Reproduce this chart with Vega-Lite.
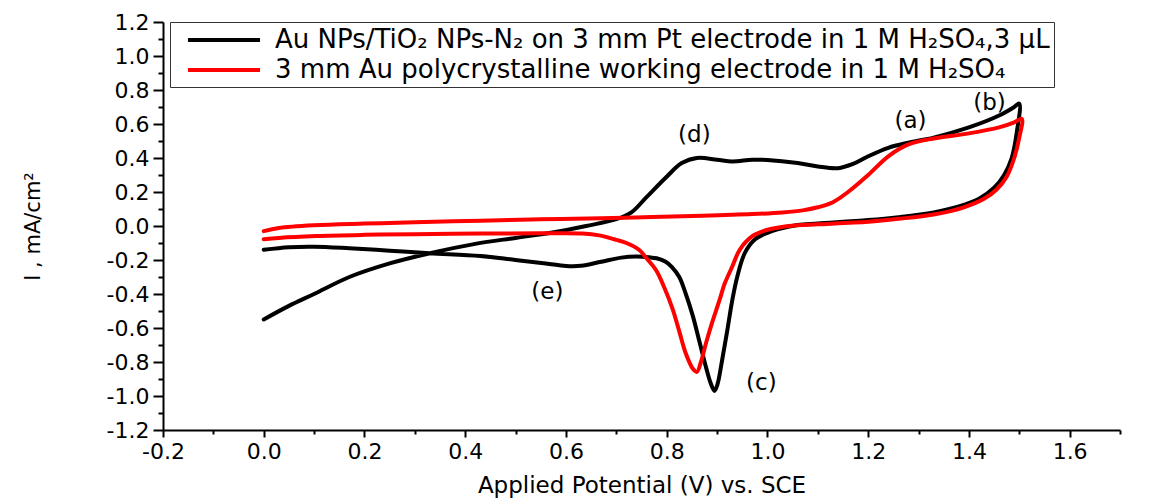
{
  "$schema": "https://vega.github.io/schema/vega-lite/v6.json",
  "width": 957,
  "height": 408,
  "autosize": {"type": "none"},
  "padding": {"left": 163, "top": 22, "right": 29, "bottom": 70},
  "background": "white",
  "config": {"view": {"stroke": null}, "font": "DejaVu Sans", "axis": {"labelOverlap": false}},
  "datasets": {
    "cv": [
      {"s": "Au NPs/TiO₂ NPs-N₂ on 3 mm Pt electrode in 1 M H₂SO₄,3 μL", "i": 1, "x": 0.0, "y": -0.55},
      {"s": "Au NPs/TiO₂ NPs-N₂ on 3 mm Pt electrode in 1 M H₂SO₄,3 μL", "i": 2, "x": 0.05, "y": -0.47},
      {"s": "Au NPs/TiO₂ NPs-N₂ on 3 mm Pt electrode in 1 M H₂SO₄,3 μL", "i": 3, "x": 0.1, "y": -0.4},
      {"s": "Au NPs/TiO₂ NPs-N₂ on 3 mm Pt electrode in 1 M H₂SO₄,3 μL", "i": 4, "x": 0.17, "y": -0.3},
      {"s": "Au NPs/TiO₂ NPs-N₂ on 3 mm Pt electrode in 1 M H₂SO₄,3 μL", "i": 5, "x": 0.25, "y": -0.22},
      {"s": "Au NPs/TiO₂ NPs-N₂ on 3 mm Pt electrode in 1 M H₂SO₄,3 μL", "i": 6, "x": 0.33, "y": -0.16},
      {"s": "Au NPs/TiO₂ NPs-N₂ on 3 mm Pt electrode in 1 M H₂SO₄,3 μL", "i": 7, "x": 0.42, "y": -0.105},
      {"s": "Au NPs/TiO₂ NPs-N₂ on 3 mm Pt electrode in 1 M H₂SO₄,3 μL", "i": 8, "x": 0.5, "y": -0.07},
      {"s": "Au NPs/TiO₂ NPs-N₂ on 3 mm Pt electrode in 1 M H₂SO₄,3 μL", "i": 9, "x": 0.57, "y": -0.04},
      {"s": "Au NPs/TiO₂ NPs-N₂ on 3 mm Pt electrode in 1 M H₂SO₄,3 μL", "i": 10, "x": 0.64, "y": 0.0},
      {"s": "Au NPs/TiO₂ NPs-N₂ on 3 mm Pt electrode in 1 M H₂SO₄,3 μL", "i": 11, "x": 0.7, "y": 0.04},
      {"s": "Au NPs/TiO₂ NPs-N₂ on 3 mm Pt electrode in 1 M H₂SO₄,3 μL", "i": 12, "x": 0.73, "y": 0.08},
      {"s": "Au NPs/TiO₂ NPs-N₂ on 3 mm Pt electrode in 1 M H₂SO₄,3 μL", "i": 13, "x": 0.76, "y": 0.17},
      {"s": "Au NPs/TiO₂ NPs-N₂ on 3 mm Pt electrode in 1 M H₂SO₄,3 μL", "i": 14, "x": 0.8, "y": 0.29},
      {"s": "Au NPs/TiO₂ NPs-N₂ on 3 mm Pt electrode in 1 M H₂SO₄,3 μL", "i": 15, "x": 0.83, "y": 0.37},
      {"s": "Au NPs/TiO₂ NPs-N₂ on 3 mm Pt electrode in 1 M H₂SO₄,3 μL", "i": 16, "x": 0.86, "y": 0.4},
      {"s": "Au NPs/TiO₂ NPs-N₂ on 3 mm Pt electrode in 1 M H₂SO₄,3 μL", "i": 17, "x": 0.9, "y": 0.39},
      {"s": "Au NPs/TiO₂ NPs-N₂ on 3 mm Pt electrode in 1 M H₂SO₄,3 μL", "i": 18, "x": 0.93, "y": 0.38},
      {"s": "Au NPs/TiO₂ NPs-N₂ on 3 mm Pt electrode in 1 M H₂SO₄,3 μL", "i": 19, "x": 0.97, "y": 0.39},
      {"s": "Au NPs/TiO₂ NPs-N₂ on 3 mm Pt electrode in 1 M H₂SO₄,3 μL", "i": 20, "x": 1.0, "y": 0.388},
      {"s": "Au NPs/TiO₂ NPs-N₂ on 3 mm Pt electrode in 1 M H₂SO₄,3 μL", "i": 21, "x": 1.06, "y": 0.37},
      {"s": "Au NPs/TiO₂ NPs-N₂ on 3 mm Pt electrode in 1 M H₂SO₄,3 μL", "i": 22, "x": 1.1, "y": 0.35},
      {"s": "Au NPs/TiO₂ NPs-N₂ on 3 mm Pt electrode in 1 M H₂SO₄,3 μL", "i": 23, "x": 1.14, "y": 0.34},
      {"s": "Au NPs/TiO₂ NPs-N₂ on 3 mm Pt electrode in 1 M H₂SO₄,3 μL", "i": 24, "x": 1.17, "y": 0.365},
      {"s": "Au NPs/TiO₂ NPs-N₂ on 3 mm Pt electrode in 1 M H₂SO₄,3 μL", "i": 25, "x": 1.2, "y": 0.41},
      {"s": "Au NPs/TiO₂ NPs-N₂ on 3 mm Pt electrode in 1 M H₂SO₄,3 μL", "i": 26, "x": 1.24, "y": 0.46},
      {"s": "Au NPs/TiO₂ NPs-N₂ on 3 mm Pt electrode in 1 M H₂SO₄,3 μL", "i": 27, "x": 1.28, "y": 0.49},
      {"s": "Au NPs/TiO₂ NPs-N₂ on 3 mm Pt electrode in 1 M H₂SO₄,3 μL", "i": 28, "x": 1.33, "y": 0.52},
      {"s": "Au NPs/TiO₂ NPs-N₂ on 3 mm Pt electrode in 1 M H₂SO₄,3 μL", "i": 29, "x": 1.4, "y": 0.58},
      {"s": "Au NPs/TiO₂ NPs-N₂ on 3 mm Pt electrode in 1 M H₂SO₄,3 μL", "i": 30, "x": 1.46, "y": 0.65},
      {"s": "Au NPs/TiO₂ NPs-N₂ on 3 mm Pt electrode in 1 M H₂SO₄,3 μL", "i": 31, "x": 1.49, "y": 0.7},
      {"s": "Au NPs/TiO₂ NPs-N₂ on 3 mm Pt electrode in 1 M H₂SO₄,3 μL", "i": 32, "x": 1.5, "y": 0.72},
      {"s": "Au NPs/TiO₂ NPs-N₂ on 3 mm Pt electrode in 1 M H₂SO₄,3 μL", "i": 33, "x": 1.495, "y": 0.55},
      {"s": "Au NPs/TiO₂ NPs-N₂ on 3 mm Pt electrode in 1 M H₂SO₄,3 μL", "i": 34, "x": 1.485, "y": 0.4},
      {"s": "Au NPs/TiO₂ NPs-N₂ on 3 mm Pt electrode in 1 M H₂SO₄,3 μL", "i": 35, "x": 1.47, "y": 0.3},
      {"s": "Au NPs/TiO₂ NPs-N₂ on 3 mm Pt electrode in 1 M H₂SO₄,3 μL", "i": 36, "x": 1.45, "y": 0.225},
      {"s": "Au NPs/TiO₂ NPs-N₂ on 3 mm Pt electrode in 1 M H₂SO₄,3 μL", "i": 37, "x": 1.42, "y": 0.16},
      {"s": "Au NPs/TiO₂ NPs-N₂ on 3 mm Pt electrode in 1 M H₂SO₄,3 μL", "i": 38, "x": 1.38, "y": 0.115},
      {"s": "Au NPs/TiO₂ NPs-N₂ on 3 mm Pt electrode in 1 M H₂SO₄,3 μL", "i": 39, "x": 1.33, "y": 0.08},
      {"s": "Au NPs/TiO₂ NPs-N₂ on 3 mm Pt electrode in 1 M H₂SO₄,3 μL", "i": 40, "x": 1.26, "y": 0.052},
      {"s": "Au NPs/TiO₂ NPs-N₂ on 3 mm Pt electrode in 1 M H₂SO₄,3 μL", "i": 41, "x": 1.2, "y": 0.035},
      {"s": "Au NPs/TiO₂ NPs-N₂ on 3 mm Pt electrode in 1 M H₂SO₄,3 μL", "i": 42, "x": 1.1, "y": 0.015},
      {"s": "Au NPs/TiO₂ NPs-N₂ on 3 mm Pt electrode in 1 M H₂SO₄,3 μL", "i": 43, "x": 1.06, "y": 0.006},
      {"s": "Au NPs/TiO₂ NPs-N₂ on 3 mm Pt electrode in 1 M H₂SO₄,3 μL", "i": 44, "x": 1.02, "y": -0.02},
      {"s": "Au NPs/TiO₂ NPs-N₂ on 3 mm Pt electrode in 1 M H₂SO₄,3 μL", "i": 45, "x": 1.0, "y": -0.04},
      {"s": "Au NPs/TiO₂ NPs-N₂ on 3 mm Pt electrode in 1 M H₂SO₄,3 μL", "i": 46, "x": 0.975, "y": -0.08},
      {"s": "Au NPs/TiO₂ NPs-N₂ on 3 mm Pt electrode in 1 M H₂SO₄,3 μL", "i": 47, "x": 0.955, "y": -0.16},
      {"s": "Au NPs/TiO₂ NPs-N₂ on 3 mm Pt electrode in 1 M H₂SO₄,3 μL", "i": 48, "x": 0.94, "y": -0.3},
      {"s": "Au NPs/TiO₂ NPs-N₂ on 3 mm Pt electrode in 1 M H₂SO₄,3 μL", "i": 49, "x": 0.93, "y": -0.44},
      {"s": "Au NPs/TiO₂ NPs-N₂ on 3 mm Pt electrode in 1 M H₂SO₄,3 μL", "i": 50, "x": 0.92, "y": -0.62},
      {"s": "Au NPs/TiO₂ NPs-N₂ on 3 mm Pt electrode in 1 M H₂SO₄,3 μL", "i": 51, "x": 0.91, "y": -0.79},
      {"s": "Au NPs/TiO₂ NPs-N₂ on 3 mm Pt electrode in 1 M H₂SO₄,3 μL", "i": 52, "x": 0.901, "y": -0.93},
      {"s": "Au NPs/TiO₂ NPs-N₂ on 3 mm Pt electrode in 1 M H₂SO₄,3 μL", "i": 53, "x": 0.895, "y": -0.97},
      {"s": "Au NPs/TiO₂ NPs-N₂ on 3 mm Pt electrode in 1 M H₂SO₄,3 μL", "i": 54, "x": 0.888, "y": -0.93},
      {"s": "Au NPs/TiO₂ NPs-N₂ on 3 mm Pt electrode in 1 M H₂SO₄,3 μL", "i": 55, "x": 0.878, "y": -0.83},
      {"s": "Au NPs/TiO₂ NPs-N₂ on 3 mm Pt electrode in 1 M H₂SO₄,3 μL", "i": 56, "x": 0.865, "y": -0.68},
      {"s": "Au NPs/TiO₂ NPs-N₂ on 3 mm Pt electrode in 1 M H₂SO₄,3 μL", "i": 57, "x": 0.852, "y": -0.53},
      {"s": "Au NPs/TiO₂ NPs-N₂ on 3 mm Pt electrode in 1 M H₂SO₄,3 μL", "i": 58, "x": 0.838, "y": -0.4},
      {"s": "Au NPs/TiO₂ NPs-N₂ on 3 mm Pt electrode in 1 M H₂SO₄,3 μL", "i": 59, "x": 0.825, "y": -0.3},
      {"s": "Au NPs/TiO₂ NPs-N₂ on 3 mm Pt electrode in 1 M H₂SO₄,3 μL", "i": 60, "x": 0.81, "y": -0.24},
      {"s": "Au NPs/TiO₂ NPs-N₂ on 3 mm Pt electrode in 1 M H₂SO₄,3 μL", "i": 61, "x": 0.798, "y": -0.21},
      {"s": "Au NPs/TiO₂ NPs-N₂ on 3 mm Pt electrode in 1 M H₂SO₄,3 μL", "i": 62, "x": 0.78, "y": -0.19},
      {"s": "Au NPs/TiO₂ NPs-N₂ on 3 mm Pt electrode in 1 M H₂SO₄,3 μL", "i": 63, "x": 0.765, "y": -0.184},
      {"s": "Au NPs/TiO₂ NPs-N₂ on 3 mm Pt electrode in 1 M H₂SO₄,3 μL", "i": 64, "x": 0.74, "y": -0.18},
      {"s": "Au NPs/TiO₂ NPs-N₂ on 3 mm Pt electrode in 1 M H₂SO₄,3 μL", "i": 65, "x": 0.71, "y": -0.186},
      {"s": "Au NPs/TiO₂ NPs-N₂ on 3 mm Pt electrode in 1 M H₂SO₄,3 μL", "i": 66, "x": 0.67, "y": -0.21},
      {"s": "Au NPs/TiO₂ NPs-N₂ on 3 mm Pt electrode in 1 M H₂SO₄,3 μL", "i": 67, "x": 0.63, "y": -0.234},
      {"s": "Au NPs/TiO₂ NPs-N₂ on 3 mm Pt electrode in 1 M H₂SO₄,3 μL", "i": 68, "x": 0.6, "y": -0.235},
      {"s": "Au NPs/TiO₂ NPs-N₂ on 3 mm Pt electrode in 1 M H₂SO₄,3 μL", "i": 69, "x": 0.56, "y": -0.22},
      {"s": "Au NPs/TiO₂ NPs-N₂ on 3 mm Pt electrode in 1 M H₂SO₄,3 μL", "i": 70, "x": 0.5, "y": -0.2},
      {"s": "Au NPs/TiO₂ NPs-N₂ on 3 mm Pt electrode in 1 M H₂SO₄,3 μL", "i": 71, "x": 0.43, "y": -0.176},
      {"s": "Au NPs/TiO₂ NPs-N₂ on 3 mm Pt electrode in 1 M H₂SO₄,3 μL", "i": 72, "x": 0.33, "y": -0.16},
      {"s": "Au NPs/TiO₂ NPs-N₂ on 3 mm Pt electrode in 1 M H₂SO₄,3 μL", "i": 73, "x": 0.25, "y": -0.145},
      {"s": "Au NPs/TiO₂ NPs-N₂ on 3 mm Pt electrode in 1 M H₂SO₄,3 μL", "i": 74, "x": 0.17, "y": -0.131},
      {"s": "Au NPs/TiO₂ NPs-N₂ on 3 mm Pt electrode in 1 M H₂SO₄,3 μL", "i": 75, "x": 0.1, "y": -0.122},
      {"s": "Au NPs/TiO₂ NPs-N₂ on 3 mm Pt electrode in 1 M H₂SO₄,3 μL", "i": 76, "x": 0.05, "y": -0.125},
      {"s": "Au NPs/TiO₂ NPs-N₂ on 3 mm Pt electrode in 1 M H₂SO₄,3 μL", "i": 77, "x": 0.0, "y": -0.14},
      {"s": "3 mm Au polycrystalline working electrode in 1 M H₂SO₄", "i": 1, "x": 0.0, "y": -0.03},
      {"s": "3 mm Au polycrystalline working electrode in 1 M H₂SO₄", "i": 2, "x": 0.03, "y": -0.012},
      {"s": "3 mm Au polycrystalline working electrode in 1 M H₂SO₄", "i": 3, "x": 0.1, "y": 0.004},
      {"s": "3 mm Au polycrystalline working electrode in 1 M H₂SO₄", "i": 4, "x": 0.2, "y": 0.014},
      {"s": "3 mm Au polycrystalline working electrode in 1 M H₂SO₄", "i": 5, "x": 0.3, "y": 0.022},
      {"s": "3 mm Au polycrystalline working electrode in 1 M H₂SO₄", "i": 6, "x": 0.43, "y": 0.031},
      {"s": "3 mm Au polycrystalline working electrode in 1 M H₂SO₄", "i": 7, "x": 0.55, "y": 0.039},
      {"s": "3 mm Au polycrystalline working electrode in 1 M H₂SO₄", "i": 8, "x": 0.67, "y": 0.046},
      {"s": "3 mm Au polycrystalline working electrode in 1 M H₂SO₄", "i": 9, "x": 0.77, "y": 0.053},
      {"s": "3 mm Au polycrystalline working electrode in 1 M H₂SO₄", "i": 10, "x": 0.87, "y": 0.06},
      {"s": "3 mm Au polycrystalline working electrode in 1 M H₂SO₄", "i": 11, "x": 0.97, "y": 0.07},
      {"s": "3 mm Au polycrystalline working electrode in 1 M H₂SO₄", "i": 12, "x": 1.03, "y": 0.08},
      {"s": "3 mm Au polycrystalline working electrode in 1 M H₂SO₄", "i": 13, "x": 1.07, "y": 0.092},
      {"s": "3 mm Au polycrystalline working electrode in 1 M H₂SO₄", "i": 14, "x": 1.1, "y": 0.11},
      {"s": "3 mm Au polycrystalline working electrode in 1 M H₂SO₄", "i": 15, "x": 1.13, "y": 0.14},
      {"s": "3 mm Au polycrystalline working electrode in 1 M H₂SO₄", "i": 16, "x": 1.16, "y": 0.2},
      {"s": "3 mm Au polycrystalline working electrode in 1 M H₂SO₄", "i": 17, "x": 1.2, "y": 0.3},
      {"s": "3 mm Au polycrystalline working electrode in 1 M H₂SO₄", "i": 18, "x": 1.24, "y": 0.41},
      {"s": "3 mm Au polycrystalline working electrode in 1 M H₂SO₄", "i": 19, "x": 1.28, "y": 0.48},
      {"s": "3 mm Au polycrystalline working electrode in 1 M H₂SO₄", "i": 20, "x": 1.33, "y": 0.515},
      {"s": "3 mm Au polycrystalline working electrode in 1 M H₂SO₄", "i": 21, "x": 1.4, "y": 0.545},
      {"s": "3 mm Au polycrystalline working electrode in 1 M H₂SO₄", "i": 22, "x": 1.46, "y": 0.58},
      {"s": "3 mm Au polycrystalline working electrode in 1 M H₂SO₄", "i": 23, "x": 1.49, "y": 0.61},
      {"s": "3 mm Au polycrystalline working electrode in 1 M H₂SO₄", "i": 24, "x": 1.505, "y": 0.63},
      {"s": "3 mm Au polycrystalline working electrode in 1 M H₂SO₄", "i": 25, "x": 1.5, "y": 0.52},
      {"s": "3 mm Au polycrystalline working electrode in 1 M H₂SO₄", "i": 26, "x": 1.49, "y": 0.4},
      {"s": "3 mm Au polycrystalline working electrode in 1 M H₂SO₄", "i": 27, "x": 1.475, "y": 0.29},
      {"s": "3 mm Au polycrystalline working electrode in 1 M H₂SO₄", "i": 28, "x": 1.455, "y": 0.215},
      {"s": "3 mm Au polycrystalline working electrode in 1 M H₂SO₄", "i": 29, "x": 1.43, "y": 0.16},
      {"s": "3 mm Au polycrystalline working electrode in 1 M H₂SO₄", "i": 30, "x": 1.39, "y": 0.11},
      {"s": "3 mm Au polycrystalline working electrode in 1 M H₂SO₄", "i": 31, "x": 1.33, "y": 0.068},
      {"s": "3 mm Au polycrystalline working electrode in 1 M H₂SO₄", "i": 32, "x": 1.26, "y": 0.042},
      {"s": "3 mm Au polycrystalline working electrode in 1 M H₂SO₄", "i": 33, "x": 1.2, "y": 0.025},
      {"s": "3 mm Au polycrystalline working electrode in 1 M H₂SO₄", "i": 34, "x": 1.1, "y": 0.01},
      {"s": "3 mm Au polycrystalline working electrode in 1 M H₂SO₄", "i": 35, "x": 1.06, "y": 0.004},
      {"s": "3 mm Au polycrystalline working electrode in 1 M H₂SO₄", "i": 36, "x": 1.02, "y": -0.01},
      {"s": "3 mm Au polycrystalline working electrode in 1 M H₂SO₄", "i": 37, "x": 0.997, "y": -0.025},
      {"s": "3 mm Au polycrystalline working electrode in 1 M H₂SO₄", "i": 38, "x": 0.97, "y": -0.06},
      {"s": "3 mm Au polycrystalline working electrode in 1 M H₂SO₄", "i": 39, "x": 0.945, "y": -0.14},
      {"s": "3 mm Au polycrystalline working electrode in 1 M H₂SO₄", "i": 40, "x": 0.93, "y": -0.24},
      {"s": "3 mm Au polycrystalline working electrode in 1 M H₂SO₄", "i": 41, "x": 0.915, "y": -0.34},
      {"s": "3 mm Au polycrystalline working electrode in 1 M H₂SO₄", "i": 42, "x": 0.905, "y": -0.435},
      {"s": "3 mm Au polycrystalline working electrode in 1 M H₂SO₄", "i": 43, "x": 0.89, "y": -0.57},
      {"s": "3 mm Au polycrystalline working electrode in 1 M H₂SO₄", "i": 44, "x": 0.878, "y": -0.69},
      {"s": "3 mm Au polycrystalline working electrode in 1 M H₂SO₄", "i": 45, "x": 0.868, "y": -0.8},
      {"s": "3 mm Au polycrystalline working electrode in 1 M H₂SO₄", "i": 46, "x": 0.86, "y": -0.858},
      {"s": "3 mm Au polycrystalline working electrode in 1 M H₂SO₄", "i": 47, "x": 0.852, "y": -0.84},
      {"s": "3 mm Au polycrystalline working electrode in 1 M H₂SO₄", "i": 48, "x": 0.838, "y": -0.75},
      {"s": "3 mm Au polycrystalline working electrode in 1 M H₂SO₄", "i": 49, "x": 0.825, "y": -0.62},
      {"s": "3 mm Au polycrystalline working electrode in 1 M H₂SO₄", "i": 50, "x": 0.812, "y": -0.49},
      {"s": "3 mm Au polycrystalline working electrode in 1 M H₂SO₄", "i": 51, "x": 0.795, "y": -0.36},
      {"s": "3 mm Au polycrystalline working electrode in 1 M H₂SO₄", "i": 52, "x": 0.779, "y": -0.26},
      {"s": "3 mm Au polycrystalline working electrode in 1 M H₂SO₄", "i": 53, "x": 0.76, "y": -0.19},
      {"s": "3 mm Au polycrystalline working electrode in 1 M H₂SO₄", "i": 54, "x": 0.745, "y": -0.14},
      {"s": "3 mm Au polycrystalline working electrode in 1 M H₂SO₄", "i": 55, "x": 0.72, "y": -0.1},
      {"s": "3 mm Au polycrystalline working electrode in 1 M H₂SO₄", "i": 56, "x": 0.7, "y": -0.082},
      {"s": "3 mm Au polycrystalline working electrode in 1 M H₂SO₄", "i": 57, "x": 0.666, "y": -0.055},
      {"s": "3 mm Au polycrystalline working electrode in 1 M H₂SO₄", "i": 58, "x": 0.633, "y": -0.044},
      {"s": "3 mm Au polycrystalline working electrode in 1 M H₂SO₄", "i": 59, "x": 0.55, "y": -0.043},
      {"s": "3 mm Au polycrystalline working electrode in 1 M H₂SO₄", "i": 60, "x": 0.434, "y": -0.044},
      {"s": "3 mm Au polycrystalline working electrode in 1 M H₂SO₄", "i": 61, "x": 0.3, "y": -0.048},
      {"s": "3 mm Au polycrystalline working electrode in 1 M H₂SO₄", "i": 62, "x": 0.2, "y": -0.052},
      {"s": "3 mm Au polycrystalline working electrode in 1 M H₂SO₄", "i": 63, "x": 0.103, "y": -0.059},
      {"s": "3 mm Au polycrystalline working electrode in 1 M H₂SO₄", "i": 64, "x": 0.03, "y": -0.07},
      {"s": "3 mm Au polycrystalline working electrode in 1 M H₂SO₄", "i": 65, "x": 0.0, "y": -0.078}
    ],
    "notes": [
      {"label": "(a)", "x": 1.284, "y": 0.618},
      {"label": "(b)", "x": 1.441, "y": 0.724},
      {"label": "(c)", "x": 0.988, "y": -0.924},
      {"label": "(d)", "x": 0.855, "y": 0.535},
      {"label": "(e)", "x": 0.563, "y": -0.388}
    ]
  },
  "layer": [
    {
      "data": {"name": "cv"},
      "mark": {"type": "line", "strokeWidth": 4, "interpolate": "catmull-rom", "strokeJoin": "round", "strokeCap": "round"},
      "encoding": {
        "x": {
          "field": "x", "type": "quantitative",
          "scale": {"domain": [-0.2, 1.7], "nice": false, "zero": false},
          "axis": {
            "title": "Applied Potential (V) vs. SCE",
            "values": [-0.2, -0.1, 0, 0.1, 0.2, 0.3, 0.4, 0.5, 0.6, 0.7, 0.8, 0.9, 1.0, 1.1, 1.2, 1.3, 1.4, 1.5, 1.6, 1.7],
            "tickCount": 40,
            "labelExpr": "abs(round(datum.value*10)) % 2 == 0 ? replace(format(datum.value, '.1f'), '\u2212', '-') : ''",
            "tickSize": {"condition": {"test": "abs(round(datum.value*10)) % 2 == 1", "value": 4}, "value": 7},
            "tickWidth": 2, "tickColor": "black", "domainColor": "black", "domainWidth": 2,
            "labelFontSize": 22, "labelColor": "black", "labelPadding": 4, "labelOverlap": false, "labelFlush": false, "labelBound": false,
            "titleFontSize": 23, "titleFontWeight": "normal", "titleColor": "black", "titlePadding": 12,
            "grid": false
          }
        },
        "y": {
          "field": "y", "type": "quantitative",
          "scale": {"domain": [-1.2, 1.2], "nice": false, "zero": false},
          "axis": {
            "title": "I , mA/cm²",
            "values": [-1.2, -1.1, -1.0, -0.9, -0.8, -0.7, -0.6, -0.5, -0.4, -0.3, -0.2, -0.1, 0, 0.1, 0.2, 0.3, 0.4, 0.5, 0.6, 0.7, 0.8, 0.9, 1.0, 1.1, 1.2],
            "tickCount": 50,
            "labelExpr": "abs(round(datum.value*10)) % 2 == 0 ? replace(format(datum.value, '.1f'), '\u2212', '-') : ''",
            "tickSize": {"condition": {"test": "abs(round(datum.value*10)) % 2 == 1", "value": 5}, "value": 10},
            "tickWidth": 2, "tickColor": "black", "domainColor": "black", "domainWidth": 2,
            "labelFontSize": 22, "labelColor": "black", "labelPadding": 4, "labelOverlap": false, "labelFlush": false, "labelBound": false,
            "titleFontSize": 21, "titleFontWeight": "normal", "titleColor": "black", "titlePadding": 63,
            "grid": false
          }
        },
        "order": {"field": "i", "type": "quantitative"},
        "color": {
          "field": "s", "type": "nominal",
          "scale": {
            "domain": ["Au NPs/TiO₂ NPs-N₂ on 3 mm Pt electrode in 1 M H₂SO₄,3 μL", "3 mm Au polycrystalline working electrode in 1 M H₂SO₄"],
            "range": ["#000000", "#ff0000"]
          },
          "legend": {
            "orient": "none", "legendX": 7, "legendY": 0, "title": null,
            "strokeColor": "#333333", "fillColor": "white", "padding": 4,
            "symbolType": "stroke", "symbolSize": 5200, "symbolStrokeWidth": 4,
            "labelFontSize": 26, "labelFont": "DejaVu Sans", "labelColor": "black", "labelLimit": 1500, "labelOffset": 24,
            "rowPadding": 3,
            "encode": {
              "symbols": {"update": {"size": {"value": 5200}, "x": {"value": 50}, "y": {"value": 14}}},
              "labels": {"update": {"y": {"value": 14}}}
            }
          }
        }
      }
    },
    {
      "data": {"name": "notes"},
      "mark": {"type": "text", "fontSize": 23, "font": "DejaVu Sans", "color": "black", "align": "center", "baseline": "middle"},
      "encoding": {
        "x": {"field": "x", "type": "quantitative"},
        "y": {"field": "y", "type": "quantitative"},
        "text": {"field": "label"}
      }
    }
  ]
}
